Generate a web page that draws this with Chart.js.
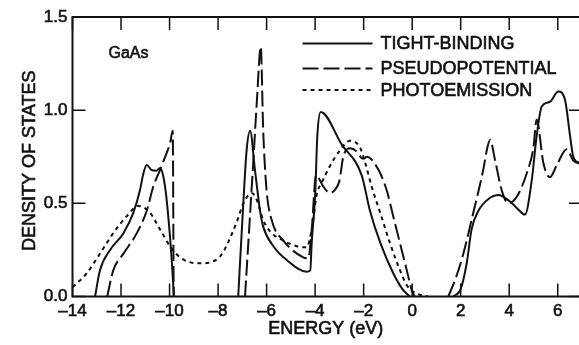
<!DOCTYPE html>
<html>
<head>
<meta charset="utf-8">
<title>GaAs density of states</title>
<script src="https://cdn.jsdelivr.net/npm/chart.js@4.4.1/dist/chart.umd.min.js"></script>
<style>
  html, body { margin: 0; padding: 0; background: #fff; overflow: hidden; }
  #wrap { position: relative; width: 583px; height: 345px; }
</style>
</head>
<body>
<div id="wrap"><canvas id="dos"></canvas></div>
<script>
// tick values
const xTicks = [-14, -12, -10, -8, -6, -4, -2, 0, 2, 4, 6];
const yTicks = [0, 0.5, 1.0, 1.5];

const seriesNames = ['TIGHT-BINDING', 'PSEUDOPOTENTIAL', 'PHOTOEMISSION'];

// tight-binding, three bands
const tbE1 = [-13.07, -12.87, -12.45, -11.9, -11.49, -11.22, -11.08, -10.94, -10.75, -10.55, -10.39, -10.25, -10.12, -9.91, -9.82];
const tbD1 = [0, 0.14, 0.25, 0.34, 0.45, 0.57, 0.66, 0.706, 0.68, 0.675, 0.69, 0.64, 0.52, 0.196, 0];
const tbE2 = [-7.17, -6.96, -6.82, -6.68, -6.48, -6.27, -6.14, -5.72, -5.17, -4.35, -4.2, -4.14, -4.0, -3.91, -3.77, -2.9, -2.08, -1.74, -1.32, -0.78, -0.4, -0.1];
const tbD2 = [0, 0.50, 0.79, 0.89, 0.68, 0.46, 0.375, 0.27, 0.196, 0.133, 0.14, 0.29, 0.54, 0.86, 0.99, 0.815, 0.65, 0.46, 0.29, 0.125, 0.04, 0];
const tbE3 = [1.7, 2.0, 2.25, 2.45, 2.73, 3.21, 3.55, 4.03, 4.35, 4.65, 4.93, 5.13, 5.34, 5.68, 6.02, 6.3, 6.51, 6.64, 6.88, 7.0];
const tbD3 = [0, 0.04, 0.18, 0.36, 0.46, 0.53, 0.545, 0.51, 0.47, 0.44, 0.625, 0.86, 1.02, 1.045, 1.10, 1.055, 0.86, 0.75, 0.72, 0.72];

// pseudopotential, three bands
const ppE1 = [-12.57, -12.32, -11.9, -11.35, -10.94, -10.67, -10.39, -10.12, -9.98, -9.87, -9.83];
const ppD1 = [0, 0.14, 0.23, 0.34, 0.46, 0.59, 0.68, 0.77, 0.82, 0.89, 0];
const ppE2 = [-6.89, -6.7, -6.55, -6.4, -6.24, -6.14, -6.0, -5.79, -5.31, -4.49, -4.28, -4.14, -3.96, -3.66, -3.4, -3.2, -3.0, -2.84, -2.56, -2.3, -2.1, -2.0, -1.87, -1.39, -1.05, -0.78, -0.5, -0.22, -0.02, 0.1];
const ppD2 = [0, 0.4, 0.72, 1.05, 1.34, 0.89, 0.57, 0.41, 0.30, 0.21, 0.205, 0.36, 0.65, 0.59, 0.555, 0.57, 0.62, 0.75, 0.795, 0.78, 0.745, 0.74, 0.75, 0.68, 0.57, 0.43, 0.285, 0.14, 0.035, 0];
const ppE3 = [1.49, 1.8, 2.11, 2.52, 2.93, 3.1, 3.21, 3.42, 3.69, 3.96, 4.31, 4.72, 5.0, 5.13, 5.41, 5.68, 5.96, 6.37, 6.64, 7.0];
const ppD3 = [0, 0.1, 0.23, 0.45, 0.68, 0.8, 0.84, 0.73, 0.57, 0.50, 0.535, 0.66, 0.80, 0.95, 0.715, 0.64, 0.705, 0.79, 0.73, 0.71];

// photoemission
const peE = [-14, -13.41, -12.87, -12.32, -11.77, -11.29, -10.81, -10.39, -9.98, -9.57, -9.02, -8.74, -8.3, -7.95, -7.7, -7.45, -7.2, -6.96, -6.61, -6.41, -6.14, -5.86, -5.31, -4.76, -4.35, -4.14, -3.93, -3.73, -3.39, -2.97, -2.56, -2.15, -1.94, -1.67, -1.32, -0.91, -0.5, -0.22, 0.05, 0.3, 0.65];
const peD = [0.05, 0.125, 0.23, 0.34, 0.43, 0.486, 0.45, 0.36, 0.27, 0.21, 0.18, 0.178, 0.185, 0.21, 0.26, 0.33, 0.41, 0.50, 0.555, 0.52, 0.41, 0.35, 0.30, 0.27, 0.264, 0.36, 0.55, 0.61, 0.70, 0.786, 0.836, 0.80, 0.72, 0.59, 0.45, 0.285, 0.14, 0.06, 0.025, 0.01, 0];

const FONT = '"Liberation Sans", Arial, Helvetica, sans-serif';
const INK = '#111';

// join bands into one point list, with a null between them so the line breaks
function bands(...pairs) {
    const pts = [];
    for (let i = 0; i < pairs.length; i += 2) {
        const es = pairs[i], ds = pairs[i + 1];
        if (pts.length) pts.push({ x: (pts[pts.length - 1].x + es[0]) / 2, y: null });
        es.forEach((e, j) => pts.push({ x: e, y: ds[j] }));
    }
    return pts;
}

// filled text with a thin outline, a touch heavier than plain regular
function inkText(ctx, text, x, y) {
    ctx.fillText(text, x, y);
    ctx.strokeText(text, x, y);
}

// box frame with inward ticks on all four sides, axis titles, legend and label
const framePlugin = {
    id: 'frame',
    afterDraw(chart) {
        const ctx = chart.ctx;
        const { left, right, top, bottom } = chart.chartArea;
        const xs = chart.scales.x, ys = chart.scales.y;
        const tick = 13;
        ctx.save();
        ctx.strokeStyle = INK;
        ctx.fillStyle = INK;
        ctx.lineWidth = 2;
        ctx.setLineDash([]);
        ctx.strokeRect(left, top, right - left, bottom - top);
        ctx.lineWidth = 1.5;
        ctx.beginPath();
        xTicks.forEach(v => {
            const px = xs.getPixelForValue(v);
            ctx.moveTo(px, top); ctx.lineTo(px, top + tick);
            ctx.moveTo(px, bottom); ctx.lineTo(px, bottom - tick);
        });
        yTicks.forEach(v => {
            const py = ys.getPixelForValue(v);
            ctx.moveTo(left, py); ctx.lineTo(left + tick, py);
            ctx.moveTo(right, py); ctx.lineTo(right - tick, py);
        });
        ctx.stroke();

        // axis titles
        ctx.font = '18px ' + FONT;
        ctx.textAlign = 'center';
        ctx.textBaseline = 'middle';
        ctx.lineWidth = 0.6;
        inkText(ctx, 'ENERGY (eV)', (left + 579) / 2, bottom + 33);
        ctx.save();
        ctx.translate(30, (top + bottom) / 2 + 4);
        ctx.rotate(-Math.PI / 2);
        inkText(ctx, 'DENSITY OF STATES', 0, 0);
        ctx.restore();

        // legend
        ctx.textAlign = 'left';
        const rows = [26.5, 51.5, 73];
        chart.data.datasets.forEach((ds, i) => {
            const y = top + rows[i];
            ctx.lineWidth = ds.borderWidth;
            ctx.setLineDash(ds.borderDash);
            ctx.beginPath();
            ctx.moveTo(left + 230, y);
            ctx.lineTo(left + 300, y);
            ctx.stroke();
            ctx.setLineDash([]);
            ctx.lineWidth = 0.6;
            inkText(ctx, seriesNames[i], left + 308, y + 1);
        });

        ctx.font = '16px ' + FONT;
        ctx.textAlign = 'center';
        ctx.lineWidth = 0.6;
        inkText(ctx, 'GaAs', left + 56, top + 37);
        ctx.restore();
    }
};

const minus = v => (v < 0 ? '\u2013' + Math.abs(v) : String(v));

new Chart(document.getElementById('dos'), {
    type: 'line',
    data: {
        datasets: [
            {
                label: seriesNames[0],
                data: bands(tbE1, tbD1, tbE2, tbD2, tbE3, tbD3),
                borderColor: INK, borderWidth: 2, borderDash: []
            },
            {
                label: seriesNames[1],
                data: bands(ppE1, ppD1, ppE2, ppD2, ppE3, ppD3),
                borderColor: INK, borderWidth: 2, borderDash: [16, 5]
            },
            {
                label: seriesNames[2],
                data: bands(peE, peD),
                borderColor: INK, borderWidth: 2, borderDash: [4, 4]
            }
        ]
    },
    options: {
        responsive: true,
        maintainAspectRatio: false,
        animation: false,
        spanGaps: false,
        layout: { padding: { top: 17, right: 1, left: 0, bottom: 0 } },
        elements: {
            point: { radius: 0 },
            line: { cubicInterpolationMode: 'monotone', fill: false }
        },
        plugins: {
            legend: { display: false },
            tooltip: { enabled: false }
        },
        scales: {
            x: {
                type: 'linear',
                min: -14,
                max: 7,
                afterBuildTicks: s => { s.ticks = xTicks.map(v => ({ value: v })); },
                afterFit: s => { s.height = 48.5; },
                grid: { display: false, drawTicks: false },
                border: { display: false },
                ticks: {
                    color: INK,
                    font: { family: FONT, size: 17 },
                    textStrokeColor: INK,
                    textStrokeWidth: 0.6,
                    padding: 5,
                    maxRotation: 0,
                    callback: v => minus(v)
                }
            },
            y: {
                type: 'linear',
                min: 0,
                max: 1.5,
                afterBuildTicks: s => { s.ticks = yTicks.map(v => ({ value: v })); },
                afterFit: s => { s.width = 72.5; },
                grid: { display: false, drawTicks: false },
                border: { display: false },
                ticks: {
                    color: INK,
                    font: { family: FONT, size: 17 },
                    textStrokeColor: INK,
                    textStrokeWidth: 0.6,
                    padding: 5,
                    callback: v => v.toFixed(1)
                }
            }
        }
    },
    plugins: [framePlugin]
});
</script>
</body>
</html>
